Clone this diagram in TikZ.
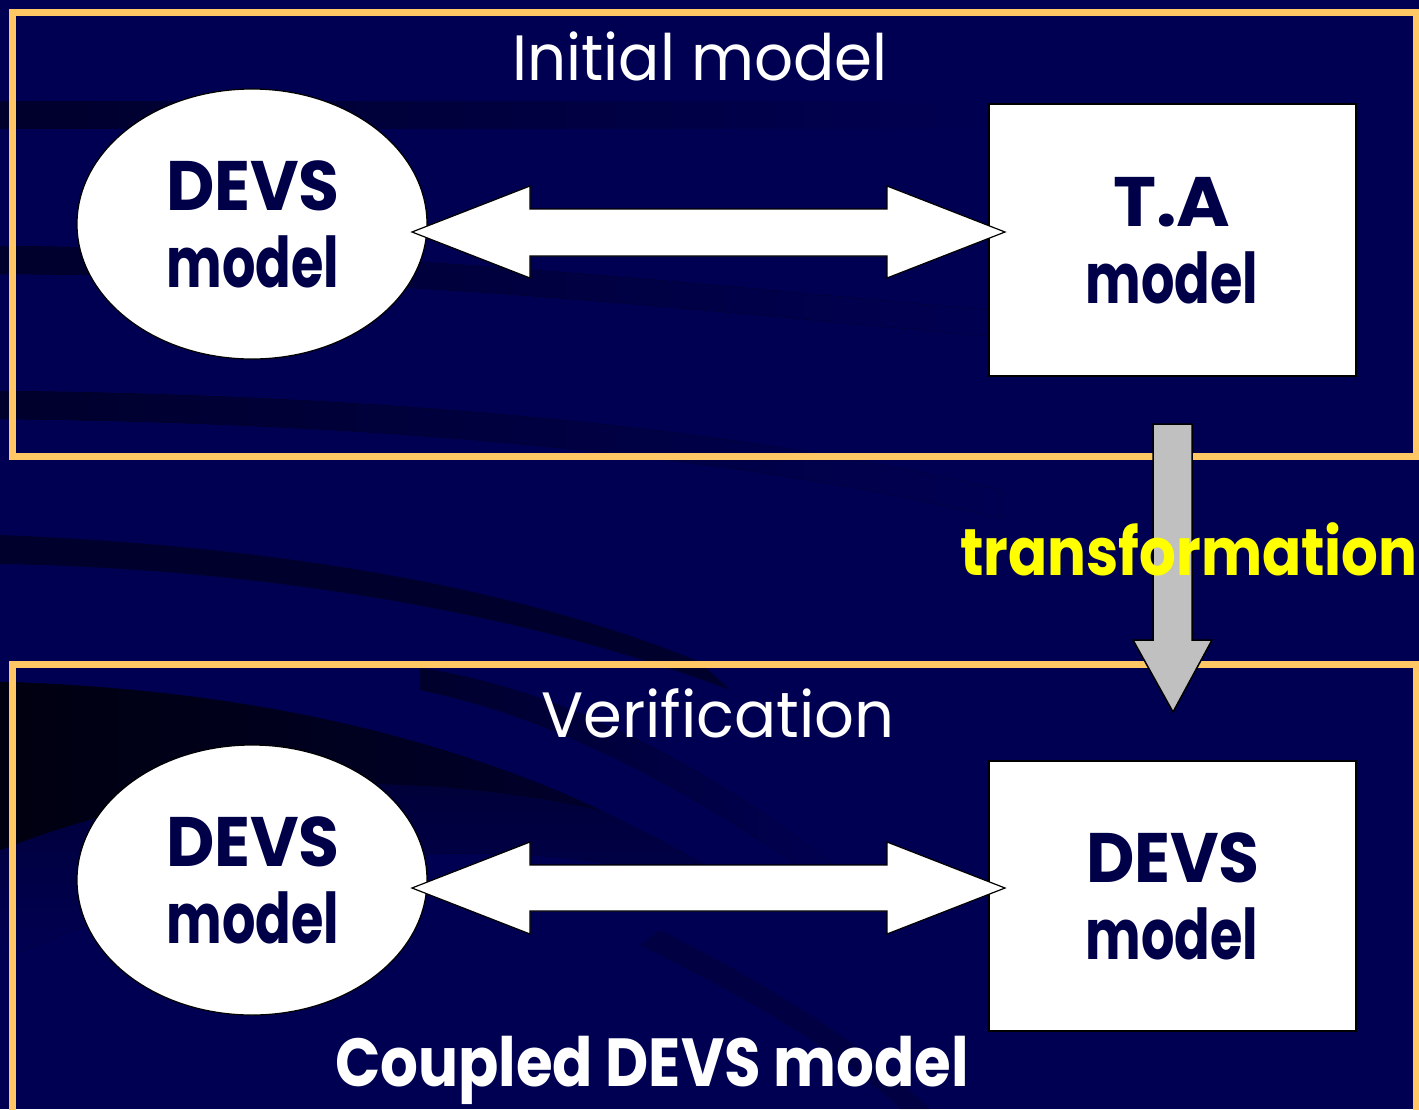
\documentclass[tikz,border=0pt]{standalone}
\usepackage{fontspec}
\setmainfont{Poppins}
\usetikzlibrary{shapes.geometric}
\definecolor{navybg}{HTML}{000052}
\definecolor{streak}{HTML}{00002C}
\definecolor{deepstreak}{HTML}{000010}
\definecolor{framec}{HTML}{FFC864}
\definecolor{inktext}{HTML}{000048}
\definecolor{arrowgray}{HTML}{C0C0C0}
\definecolor{labelyellow}{HTML}{FFFF00}
% horizontal squeeze of a word, height unchanged
\newcommand{\squeeze}[2]{\scalebox{#1}[1]{#2}}
\tikzset{
  panel/.style={draw=framec, line width=7pt},
  modelshape/.style={fill=white, draw=black, line width=1.2pt},
  twoway/.style={fill=white, draw=black, line width=1.2pt, line join=miter},
  downarrow/.style={fill=arrowgray, draw=black, line width=1.5pt},
  shapetext/.style={text=inktext, font=\fontsize{70}{78}\selectfont\bfseries, anchor=base},
  heading/.style={text=white, font=\fontsize{64}{70}\selectfont, anchor=base, inner sep=0pt},
  bigheading/.style={text=white, font=\fontsize{68}{74}\selectfont\bfseries, anchor=base, inner sep=0pt},
}
\begin{document}
\begin{tikzpicture}[x=1pt, y=-1pt]
\useasboundingbox (0,0) rectangle (1419,1109);
\clip (0,0) rectangle (1419,1109);

% backdrop and darker sweeping bands
\fill[navybg] (0,0) rectangle (1419,1109);
\fill[left color=streak, right color=navybg] (0,101) -- (1000,101) -- (1000,128) -- (0,128) -- cycle;
\fill[left color=streak, right color=navybg] (0,246) .. controls (400,250) and (700,285) .. (1000,311)
  -- (1000,337) .. controls (700,311) and (400,276) .. (0,274) -- cycle;
\fill[left color=streak, right color=navybg] (0,391) .. controls (400,395) and (750,430) .. (1000,490)
  -- (1000,518) .. controls (750,458) and (400,423) .. (0,419) -- cycle;
\fill[streak] (0,535) .. controls (250,545) and (500,580) .. (700,662)
  -- (730,690) .. controls (520,610) and (250,568) .. (0,564) -- cycle;
\fill[left color=streak, right color=navybg] (420,668) .. controls (560,690) and (700,760) .. (840,870)
  -- (820,880) .. controls (690,790) and (550,715) .. (420,690) -- cycle;
\fill[streak, opacity=0.4] (660,930) .. controls (760,980) and (860,1040) .. (930,1109)
  -- (900,1109) .. controls (840,1050) and (740,995) .. (640,945) -- cycle;
% dark sweep in the lower panel's corner
\fill[top color=streak, bottom color=navybg] (0,682) .. controls (300,690) and (550,760) .. (760,900)
  .. controls (550,830) and (300,830) .. (0,960) -- cycle;
\fill[left color=deepstreak, right color=streak] (0,682) .. controls (200,688) and (420,725) .. (600,810)
  .. controls (420,770) and (200,770) .. (0,850) -- cycle;

% panels
\draw[panel] (12,12) rectangle (1416,456);
\draw[panel] (12,664) rectangle (1416,1120);

% top panel: models
\node[modelshape, ellipse, minimum width=350pt, minimum height=270pt] (devsA) at (252,224) {};
\node[modelshape, rectangle, minimum width=367pt, minimum height=272pt] (taBox) at (1172.5,240) {};
\node[shapetext] at (253,210) {\squeeze{0.95}{DEVS}};
\node[shapetext] at (253,287) {\squeeze{0.75}{model}};
\node[shapetext] at (1172,226) {\squeeze{1.04}{T.A}};
\node[shapetext] at (1172,303) {\squeeze{0.75}{model}};

% bottom panel: models
\node[modelshape, ellipse, minimum width=350pt, minimum height=270pt] (devsB) at (252,880) {};
\node[modelshape, rectangle, minimum width=367pt, minimum height=270pt] (devsBox) at (1172.5,896) {};
\node[shapetext] at (253,866) {\squeeze{0.95}{DEVS}};
\node[shapetext] at (253,943) {\squeeze{0.75}{model}};
\node[shapetext] at (1173,882) {\squeeze{0.95}{DEVS}};
\node[shapetext] at (1172,959) {\squeeze{0.75}{model}};

% two-way block arrows between the models
\coordinate (tA) at (412,232);
\coordinate (tB) at (1005,232);
\draw[twoway] (tA) -- (530,186) -- (530,209) -- (887,209) -- (887,186) -- (tB)
  -- (887,278) -- (887,256) -- (530,256) -- (530,278) -- cycle;
\coordinate (bA) at (412,888);
\coordinate (bB) at (1005,888);
\draw[twoway] (bA) -- (530,842) -- (530,865) -- (887,865) -- (887,842) -- (bB)
  -- (887,934) -- (887,911) -- (530,911) -- (530,934) -- cycle;

% transformation arrow
\coordinate (tr0) at (1173,424);
\coordinate (tr1) at (1173,712);
\draw[downarrow] (1153,424) -- (1192,424) -- (1192,640) -- (1212,640) -- (tr1)
  -- (1133,640) -- (1153,640) -- cycle;
\node[text=labelyellow, font=\fontsize{66}{72}\selectfont\bfseries, anchor=base west, inner sep=0pt] (trlab) at (960,575) {\squeeze{0.875}{transformation}};

% headings
\node[heading] (h1) at (700,80) {\squeeze{0.955}{Initial model}};
\node[heading] (h2) at (718,737) {\squeeze{0.975}{Verification}};
\node[bigheading] (h3) at (652,1086) {\squeeze{0.874}{Coupled DEVS model}};
\end{tikzpicture}
\end{document}
